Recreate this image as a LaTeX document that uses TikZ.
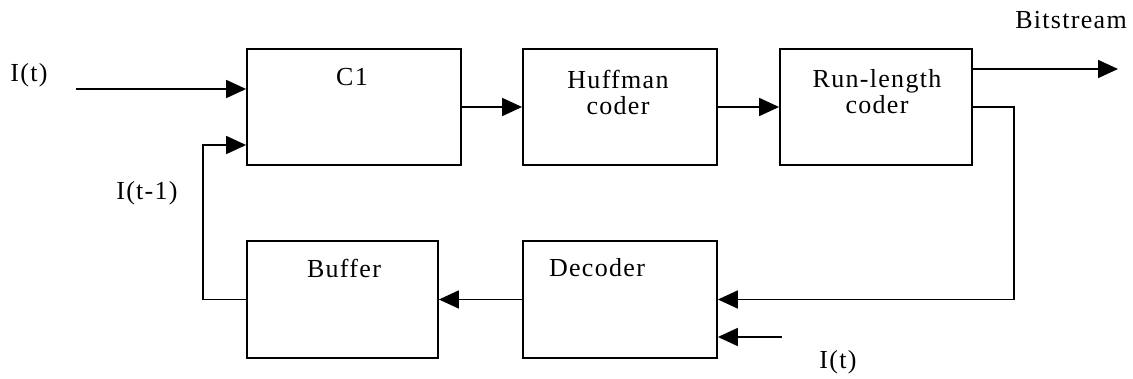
\documentclass[tikz,border=0pt]{standalone}
\usepackage{fontspec}
\setmainfont[LetterSpace=5]{Liberation Serif}
\usetikzlibrary{arrows.meta}
\begin{document}
\begin{tikzpicture}[x=1pt,y=-1pt,
  blk/.style={draw,line width=1.8pt,minimum height=116pt,inner sep=0pt},
  lbl/.style={inner sep=0pt,font=\fontsize{26}{30}\selectfont,align=center},
  con/.style={line width=1.8pt},
  arr/.style={con,-{Triangle[length=20pt,width=18pt]}}]
\useasboundingbox (0,0) rectangle (1133,379);
% boxes
\node[blk,minimum width=214pt] (c1) at (354,107) {};
\node[blk,minimum width=194pt] (huf) at (620,107) {};
\node[blk,minimum width=192pt] (rl) at (876,107) {};
\node[blk,minimum width=191pt,minimum height=117pt] (buf) at (342.5,299.5) {};
\node[blk,minimum width=194pt,minimum height=117pt] (dec) at (620,299.5) {};
% labels in boxes
\node[lbl] (c1t) at (352,77) {C1};
\node[lbl] (huft) at (618,92) {Huffman\\[-4pt]coder};
\node[lbl] (rlt) at (877,92) {Run-length\\[-4pt]coder};
\node[lbl] (buft) at (344,268) {Buffer};
\node[lbl] (dect) at (597,268) {Decoder};
% outside labels
\node[lbl] (it1) at (29,75) {I(t)};
\node[lbl] (itm) at (147,193) {I(t-1)};
\node[lbl] (bs) at (1071,20) {Bitstream};
\node[lbl] (it2) at (838,362) {I(t)};
% coordinates
\coordinate (in1) at (76,89);
\coordinate (bsend) at (1118,69);
\coordinate (fbr) at (1014,107);
\coordinate (in2) at (782,337);
\coordinate (lft) at (203,145);
% connectors
\draw[arr] (in1) -- (in1 -| c1.west);
\draw[arr] (c1.east) -- (huf.west);
\draw[arr] (huf.east) -- (rl.west);
\draw[arr] (rl.east |- bsend) -- (bsend);
\draw[arr] (rl.east) -- (fbr) |- (dec.east);
\draw[arr] (in2) -- (in2 -| dec.east);
\draw[arr] (dec.west) -- (buf.east);
\draw[arr] (buf.west) -| (lft) -- (lft -| c1.west);
\end{tikzpicture}
\end{document}
